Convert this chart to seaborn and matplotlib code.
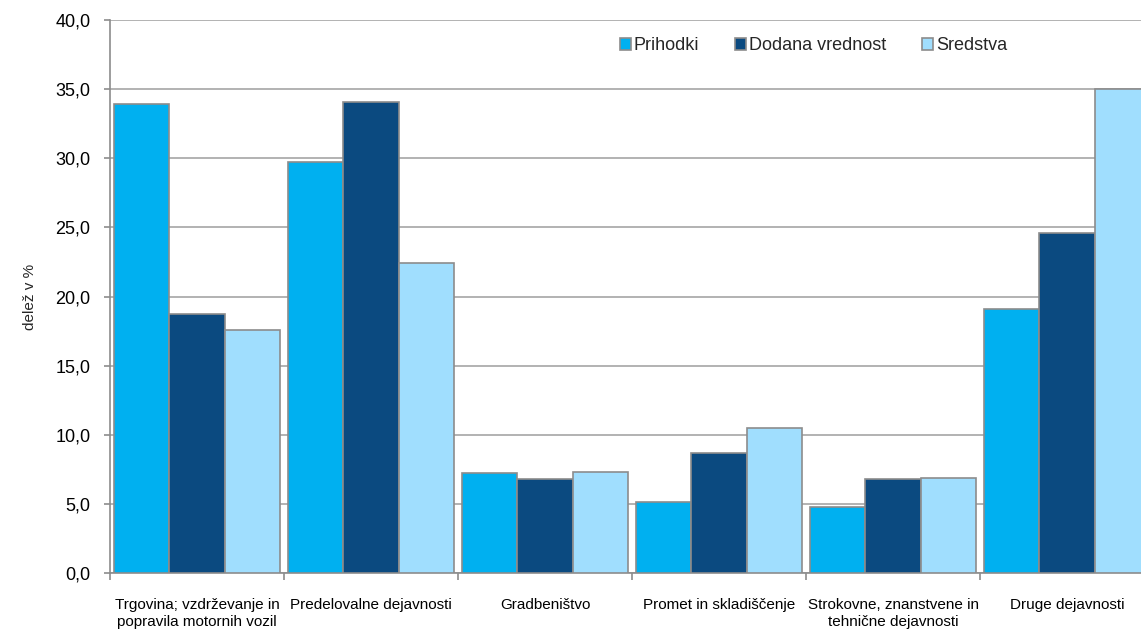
import matplotlib.pyplot as plt
import matplotlib.ticker as mticker
import seaborn as sns
import pandas as pd

# === Data ===
categories = [
    "Trgovina; vzdrževanje in\npopravila motornih vozil",
    "Predelovalne dejavnosti",
    "Gradbeništvo",
    "Promet in skladiščenje",
    "Strokovne, znanstvene in\ntehnične dejavnosti",
    "Druge dejavnosti",
]
series = ["Prihodki", "Dodana vrednost", "Sredstva"]
prihodki = [33.9, 29.7, 7.2, 5.1, 4.8, 19.1]
dodana_vrednost = [18.7, 34.1, 6.8, 8.7, 6.8, 24.6]
sredstva = [17.6, 22.4, 7.3, 10.5, 6.9, 35.0]
colors = ["#00b0f0", "#0b4a80", "#a0defe"]

df = pd.DataFrame({
    "kategorija": categories * 3,
    "serija": [s for s in series for _ in categories],
    "vrednost": prihodki + dodana_vrednost + sredstva,
})

# === Plot Settings ===
sns.set_theme(style="white")
plt.rcParams["font.family"] = ["Liberation Sans", "DejaVu Sans"]

fig = plt.figure(figsize=(11.41, 6.29), dpi=100)
ax = fig.add_axes([110 / 1141, 56 / 629, 1044 / 1141, 553 / 629])

sns.barplot(
    data=df, x="kategorija", y="vrednost", hue="serija",
    hue_order=series, order=categories, palette=colors,
    width=0.95, edgecolor="#8c8c8c", linewidth=1.2,
    saturation=1, ax=ax, zorder=3,
)

# === Axes styling ===
ax.set_ylim(0, 40)
ax.set_xlim(-0.5, 5.5)
ax.yaxis.set_major_locator(mticker.MultipleLocator(5))
ax.yaxis.set_major_formatter(mticker.FuncFormatter(lambda v, _: f"{v:.1f}".replace(".", ",")))
ax.yaxis.grid(True, color="#a6a6a6", linewidth=1.2, zorder=0)
ax.set_axisbelow(True)

for side in ["top", "right"]:
    ax.spines[side].set_visible(False)
for side in ["left", "bottom"]:
    ax.spines[side].set_color("#8c8c8c")
    ax.spines[side].set_linewidth(1.2)

ax.tick_params(axis="y", which="major", left=True, length=4, width=1.2,
               color="#8c8c8c", labelsize=13, pad=10, labelcolor="black")
ax.tick_params(axis="x", which="major", bottom=False, length=0, labelsize=11,
               pad=18, labelcolor="black")
ax.set_xticks([i - 0.5 for i in range(7)], minor=True)
ax.tick_params(axis="x", which="minor", bottom=True, length=5, width=1.2,
               color="#8c8c8c")
for lbl in ax.get_xticklabels():
    lbl.set_linespacing(1.3)

ax.set_xlabel("")
ax.set_ylabel("delež v %", fontsize=11)
ax.yaxis.set_label_coords(-0.07, 0.5)

# === Legend ===
handles, labels = ax.get_legend_handles_labels()
ax.legend(
    handles, labels, loc="center", ncol=3, frameon=False,
    bbox_to_anchor=(0.713, 0.927), bbox_transform=fig.transFigure,
    fontsize=13, handlelength=0.6, handleheight=0.6,
    handletextpad=0.15, columnspacing=2.0,
)

fig.savefig("out.png", dpi=100)
plt.close(fig)
